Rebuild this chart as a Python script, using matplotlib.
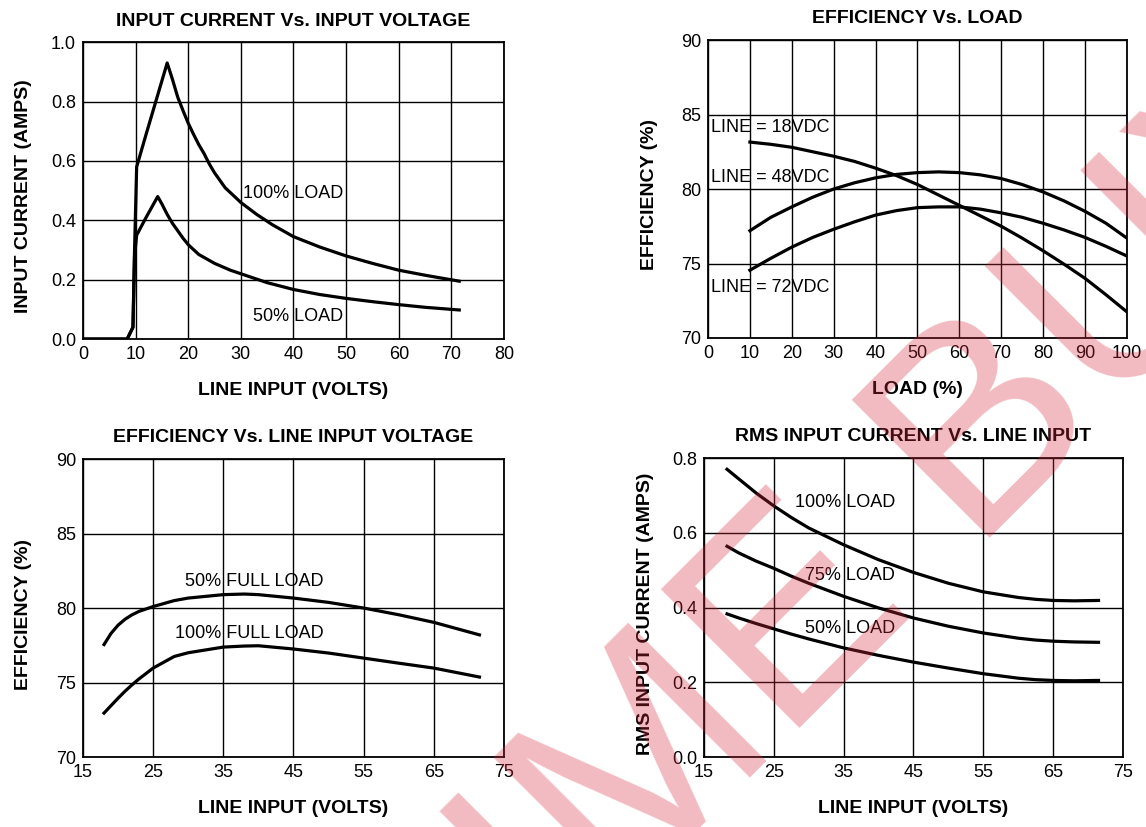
import matplotlib
matplotlib.use("Agg")
import matplotlib.pyplot as plt

plt.rcParams['font.family'] = ['Liberation Sans', 'DejaVu Sans']

# ---- data ----
# input current vs input voltage
vin_100 = [0, 8.4, 9.5, 9.8, 10.2, 12, 14, 16, 17, 18, 19, 20, 21, 22, 23, 24, 25, 27, 30,
           33, 36, 40, 45, 50, 55, 60, 65, 71.5]
iin_100 = [0, 0, 0.04, 0.30, 0.58, 0.69, 0.81, 0.93, 0.875, 0.815, 0.77, 0.727, 0.69, 0.655, 0.625,
           0.59, 0.56, 0.51, 0.46, 0.42, 0.385, 0.345, 0.31, 0.28, 0.255, 0.232, 0.215, 0.195]
vin_50 = [0, 8.4, 9.5, 9.8, 10.2, 12, 14.2, 15, 16, 17, 18, 19, 20, 22, 25, 28, 30, 35, 40,
          45, 50, 55, 60, 65, 71.5]
iin_50 = [0, 0, 0.04, 0.28, 0.35, 0.41, 0.48, 0.455, 0.42, 0.39, 0.365, 0.34, 0.318, 0.285, 0.255,
          0.232, 0.22, 0.19, 0.167, 0.15, 0.137, 0.126, 0.116, 0.107, 0.098]

# efficiency vs load
load = [10, 15, 20, 25, 30, 35, 40, 45, 50, 55, 60, 65, 70, 75, 80, 85, 90, 95, 100]
eff_18 = [83.15, 83.0, 82.8, 82.5, 82.2, 81.85, 81.4, 80.9, 80.3, 79.6, 78.9, 78.2, 77.5, 76.7, 75.85, 74.95, 74.0, 72.9, 71.75]
eff_48 = [77.2, 78.1, 78.8, 79.45, 80.0, 80.42, 80.75, 80.98, 81.1, 81.15, 81.1, 80.95, 80.7, 80.3, 79.8, 79.2, 78.5, 77.7, 76.7]
eff_72 = [74.55, 75.35, 76.1, 76.75, 77.3, 77.8, 78.25, 78.55, 78.75, 78.8, 78.8, 78.65, 78.4, 78.1, 77.7, 77.25, 76.75, 76.15, 75.5]

# efficiency vs line input voltage
vline = [18, 19, 20, 21, 22, 23, 25, 28, 30, 35, 38, 40, 45, 50, 55, 60, 65, 71.5]
eff_half = [77.55, 78.3, 78.85, 79.25, 79.55, 79.78, 80.1, 80.5, 80.67, 80.9, 80.94, 80.9, 80.67, 80.38, 80.0, 79.55, 79.04, 78.2]
eff_full = [72.95, 73.45, 73.95, 74.42, 74.85, 75.25, 75.97, 76.75, 77.0, 77.38, 77.45, 77.47, 77.25, 76.98, 76.64, 76.3, 75.97, 75.37]

# rms input current vs line input
vrms = [18.3, 20, 22.5, 25, 27.5, 30, 35, 40, 45, 50, 55, 60, 62.5, 65, 68, 71.5]
irms_100 = [0.77, 0.744, 0.706, 0.672, 0.641, 0.613, 0.568, 0.528, 0.494, 0.465, 0.442, 0.427, 0.422, 0.419, 0.418, 0.419]
irms_75 = [0.564, 0.546, 0.524, 0.505, 0.484, 0.465, 0.43, 0.399, 0.372, 0.35, 0.332, 0.318, 0.313, 0.31, 0.308, 0.307]
irms_50 = [0.383, 0.372, 0.357, 0.343, 0.329, 0.316, 0.292, 0.272, 0.254, 0.238, 0.223, 0.211, 0.207, 0.205, 0.204, 0.205]

LW = 2.3
TICK_FS = 13
LABEL_FS = 14

fig = plt.figure(figsize=(11.46, 8.27), dpi=100)
ax1 = fig.add_axes([0.0724, 0.590, 0.3674, 0.359])
ax2 = fig.add_axes([0.6178, 0.5913, 0.3656, 0.3603])
ax3 = fig.add_axes([0.0724, 0.0846, 0.3674, 0.3603])
ax4 = fig.add_axes([0.6143, 0.0846, 0.3656, 0.3615])


def style(ax, xticks, yticks, ylabels, title, xlabel, ylabel):
    ax.set_xlim(xticks[0], xticks[-1])
    ax.set_ylim(yticks[0], yticks[-1])
    ax.set_xticks(xticks)
    ax.set_yticks(yticks)
    ax.set_yticklabels(ylabels)
    ax.grid(True, color='black', lw=1.0)
    ax.set_axisbelow(True)
    ax.tick_params(length=0, labelsize=TICK_FS, pad=5)
    for s in ax.spines.values():
        s.set_linewidth(1.3)
    ax.set_title(title, fontsize=LABEL_FS, fontweight='bold', pad=12)
    ax.set_xlabel(xlabel, fontsize=LABEL_FS, fontweight='bold')
    ax.set_ylabel(ylabel, fontsize=LABEL_FS, fontweight='bold')
    ax.xaxis.set_label_coords(0.5, -0.145)
    ax.yaxis.set_label_coords(-0.12, 0.48)


# top left
style(ax1, list(range(0, 81, 10)), [0, 0.2, 0.4, 0.6, 0.8, 1.0],
      ['0.0', '0.2', '0.4', '0.6', '0.8', '1.0'],
      'INPUT CURRENT Vs. INPUT VOLTAGE', 'LINE INPUT (VOLTS)', 'INPUT CURRENT (AMPS)')
ax1.plot(vin_100, iin_100, color='black', lw=LW)
ax1.plot(vin_50, iin_50, color='black', lw=LW)
ax1.text(49.4, 0.49, '100% LOAD', fontsize=TICK_FS, ha='right', va='center')
ax1.text(49.4, 0.077, '50% LOAD', fontsize=TICK_FS, ha='right', va='center')

# top right
style(ax2, list(range(0, 101, 10)), [70, 75, 80, 85, 90],
      ['70', '75', '80', '85', '90'],
      'EFFICIENCY Vs. LOAD', 'LOAD (%)', 'EFFICIENCY (%)')
ax2.plot(load, eff_18, color='black', lw=LW)
ax2.plot(load, eff_48, color='black', lw=LW)
ax2.plot(load, eff_72, color='black', lw=LW)
ax2.text(0.7, 84.16, 'LINE = 18VDC', fontsize=TICK_FS, ha='left', va='center')
ax2.text(0.7, 80.8, 'LINE = 48VDC', fontsize=TICK_FS, ha='left', va='center')
ax2.text(0.7, 73.4, 'LINE = 72VDC', fontsize=TICK_FS, ha='left', va='center')

# bottom left
style(ax3, list(range(15, 76, 10)), [70, 75, 80, 85, 90],
      ['70', '75', '80', '85', '90'],
      'EFFICIENCY Vs. LINE INPUT VOLTAGE', 'LINE INPUT (VOLTS)', 'EFFICIENCY (%)')
ax3.plot(vline, eff_half, color='black', lw=LW)
ax3.plot(vline, eff_full, color='black', lw=LW)
ax3.text(49.3, 81.8, '50% FULL LOAD', fontsize=TICK_FS, ha='right', va='center')
ax3.text(49.3, 78.3, '100% FULL LOAD', fontsize=TICK_FS, ha='right', va='center')

# bottom right
style(ax4, list(range(15, 76, 10)), [0, 0.2, 0.4, 0.6, 0.8],
      ['0.0', '0.2', '0.4', '0.6', '0.8'],
      'RMS INPUT CURRENT Vs. LINE INPUT', 'LINE INPUT (VOLTS)', 'RMS INPUT CURRENT (AMPS)')
ax4.plot(vrms, irms_100, color='black', lw=LW)
ax4.plot(vrms, irms_75, color='black', lw=LW)
ax4.plot(vrms, irms_50, color='black', lw=LW)
ax4.text(42.4, 0.68, '100% LOAD', fontsize=TICK_FS, ha='right', va='center')
ax4.text(42.4, 0.487, '75% LOAD', fontsize=TICK_FS, ha='right', va='center')
ax4.text(42.4, 0.345, '50% LOAD', fontsize=TICK_FS, ha='right', va='center')

# watermark
fig.text(0.5655, 0.0617, 'LIFETIME BUY', fontsize=205, rotation=45,
         rotation_mode='anchor', ha='center', va='center',
         color='#d42a3c', alpha=0.32, zorder=10)

fig.savefig('out.png', dpi=100)
